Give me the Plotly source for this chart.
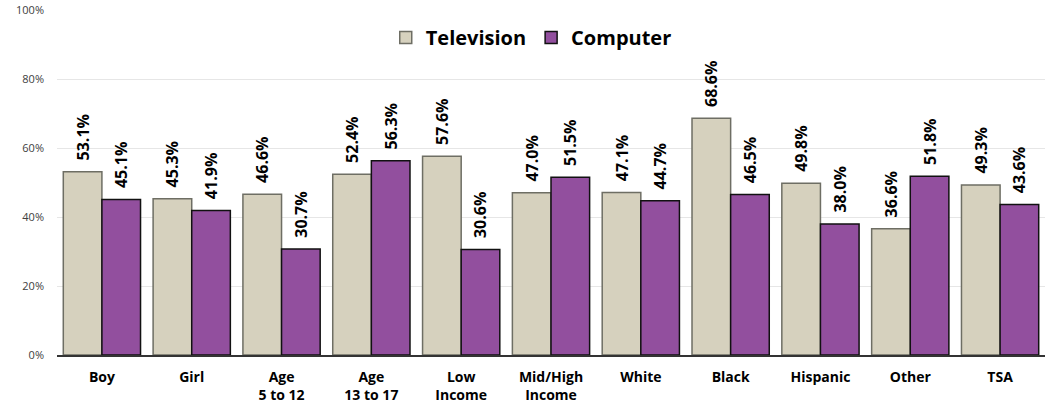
import plotly.graph_objects as go

categories = ["Boy", "Girl", "Age<br>5 to 12", "Age<br>13 to 17", "Low<br>Income",
              "Mid/High<br>Income", "White", "Black", "Hispanic", "Other", "TSA"]
television = [53.1, 45.3, 46.6, 52.4, 57.6, 47.0, 47.1, 68.6, 49.8, 36.6, 49.3]
computer = [45.1, 41.9, 30.7, 56.3, 30.6, 51.5, 44.7, 46.5, 38.0, 51.8, 43.6]

font_family = "Open Sans, Noto Sans, DejaVu Sans, sans-serif"
pad = "\u00a0\u00a0"

fig = go.Figure()
fig.add_trace(go.Bar(
    name="Television", x=categories, y=television,
    marker=dict(color="#D6D1BE", line=dict(color="#6E6E64", width=1.5)),
    text=[f"{pad}{v:.1f}%" for v in television], textposition="outside", textangle=-90,
    textfont=dict(size=16, color="#000", family=font_family, weight="bold"),
    constraintext="none", cliponaxis=False,
))
fig.add_trace(go.Bar(
    name="Computer", x=categories, y=computer,
    marker=dict(color="#924F9E", line=dict(color="#111111", width=1.5)),
    text=[f"{pad}{v:.1f}%" for v in computer], textposition="outside", textangle=-90,
    textfont=dict(size=16, color="#000", family=font_family, weight="bold"),
    constraintext="none", cliponaxis=False,
))

fig.update_layout(
    width=1050, height=406,
    margin=dict(l=57, r=5, t=10, b=51),
    plot_bgcolor="white", paper_bgcolor="white",
    barmode="group", bargap=0.14, bargroupgap=0,
    font=dict(family=font_family, color="#000"),
    uniformtext=dict(mode=False),
    legend=dict(orientation="h", x=0.48, xanchor="center", y=0.92, yanchor="middle",
                font=dict(size=20, family=font_family, weight="bold"),
                itemwidth=30, bgcolor="rgba(0,0,0,0)", traceorder="normal"),
    xaxis=dict(showgrid=False, showline=True, linecolor="#333", linewidth=1.5,
               automargin=False, ticklabelstandoff=8,
               tickfont=dict(size=14, family=font_family, weight="bold"), ticks=""),
    yaxis=dict(range=[0, 100], dtick=20, ticksuffix="%", showgrid=True,
               automargin=False, ticklabelstandoff=12,
               gridcolor="#E6E6E6", gridwidth=1, zeroline=False,
               tickfont=dict(size=11, color="#404040", family=font_family)),
)

fig.write_html(
    "out.html",
    config={"displayModeBar": False},
    post_script="document.body.style.margin='0';document.body.style.overflow='hidden';",
)
